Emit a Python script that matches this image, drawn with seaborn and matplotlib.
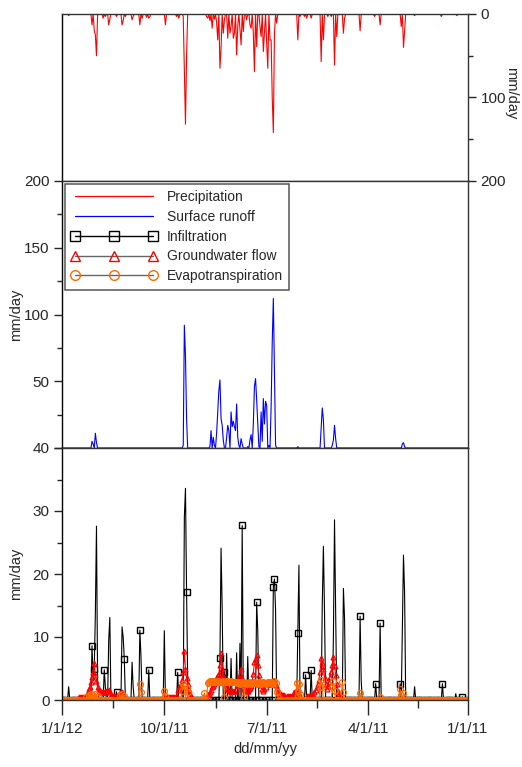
import numpy as np
import pandas as pd
import matplotlib
matplotlib.use("Agg")
import matplotlib.pyplot as plt
from matplotlib.lines import Line2D
from matplotlib.ticker import MultipleLocator, FixedLocator, FuncFormatter
import seaborn as sns

# ---------------- data (day index counted from the left edge, 0..365) ----------------
n_days = 366
tick_pos = [0, 92, 184, 275, 365]
tick_labels = ["1/1/12", "10/1/11", "7/1/11", "4/1/11", "1/1/11"]
minor_x = [46, 138, 229.5, 320]

precip_days = [6, 27, 29, 30, 31, 37, 39, 42, 43, 49, 54, 55, 57, 63, 64, 70, 72, 76, 78, 79,
               93, 103, 105, 109, 110, 111, 112, 130, 131, 133, 135, 137, 139, 140, 142, 143,
               145, 146, 149, 151, 152, 154, 155, 157, 158, 160, 161, 163, 166, 169, 170, 172,
               173, 175, 178, 179, 181, 182, 184, 185, 187, 188, 189, 190, 191, 193, 212, 214,
               218, 220, 224, 233, 235, 239, 242, 245, 247, 253, 254, 268, 281, 286, 305, 307,
               308, 317, 341, 355]
precip_vals = [2, 13, 20, 25, 50, 5, 3, 13, 6, 3, 13, 8, 3, 7, 3, 13, 5, 4, 5, 3,
               13, 3, 5, 3, 67, 132, 50, 3, 5, 8, 17, 6, 10, 31, 65, 41,
               23, 7, 29, 23, 15, 29, 23, 49, 15, 19, 37, 21, 7, 13, 17, 23,
               69, 39, 15, 27, 45, 23, 35, 65, 31, 31, 100, 142, 23, 11, 31, 3,
               3, 5, 5, 57, 31, 3, 3, 61, 27, 23, 5, 20, 3, 13, 15, 40,
               19, 2, 3, 2]

runoff_days = [27, 28, 30, 31, 109, 110, 111, 112, 133, 134, 136, 137, 139, 140, 141, 142, 143,
               144, 145, 148, 149, 150, 152, 153, 154, 155, 156, 157, 158, 159, 161, 162, 167,
               169, 170, 172, 173, 174, 175, 176, 177, 179, 180, 181, 182, 183, 184, 186, 188,
               189, 190, 191, 192, 212, 233, 234, 235, 243, 244, 245, 246, 306, 307, 308]
runoff_vals = [5, 3, 11, 4, 2, 92, 69, 22, 1, 13, 8, 2, 11, 27, 43, 51, 22,
               17, 6, 8, 17, 13, 27, 16, 20, 16, 13, 33, 8, 2, 7, 3, 1,
               6, 10, 18, 46, 52, 36, 18, 1, 27, 5, 37, 18, 35, 32, 2, 31,
               79, 112, 58, 2, 1, 15, 30, 21, 2, 6, 17, 7, 3, 4, 1]

infil_days = [6, 27, 28, 29, 30, 31, 32, 38, 39, 42, 43, 49, 54, 55, 56, 63, 64, 70, 71, 78,
              92, 104, 108, 110, 111, 112, 113, 128, 142, 143, 144, 146, 148, 152, 157, 160,
              162, 167, 175, 176, 190, 191, 192, 212, 213, 219, 224, 234, 235, 236, 244, 245,
              246, 253, 254, 268, 269, 282, 286, 304, 306, 307, 308, 317, 342, 354, 360]
infil_vals = [2.1, 8.6, 3, 5, 13.8, 27.6, 3, 4.8, 2, 9.5, 13.1, 1.3, 11.6, 10, 6.5, 6, 2, 11.1, 6.9, 4.8,
              11, 4.4, 2, 29, 33.6, 17.2, 3, 1, 6.7, 24.1, 14.5, 4.4, 7.4, 6.6, 7.5, 9,
              27.7, 6.9, 15.5, 11, 18, 19.2, 14.3, 10.6, 21.4, 4, 4.7, 15.3, 24.4, 14, 10, 28.6,
              14, 17.7, 13, 13.3, 3, 2.6, 12.2, 2.6, 11.6, 23, 17, 2.1, 2.6, 1, 0.5]
infil_square_days = [27, 29, 38, 49, 56, 70, 78, 104, 112, 142, 146, 162, 175, 190, 191,
                     212, 219, 224, 268, 282, 286, 304, 342, 360]

gw_days = list(range(15, 57)) + list(range(92, 117)) + list(range(131, 201)) + \
          list(range(202, 215)) + list(range(220, 252))
gw_vals = ([0.5] * 8 + [1.3, 1.7, 2.0, 2.9, 3.7, 4.5, 5.9, 4.0, 3.0, 2.0, 1.6, 1.4, 1.3, 1.3,
            1.2, 1.3, 1.2, 1.4, 1.5, 1.6, 1.3, 0.8, 0.7, 0.6, 0.6, 0.6, 0.7, 0.8, 0.9, 1.1,
            1.3, 1.2, 0.9, 0.5]
           + [0.5] * 12 + [1.6, 1.9, 2.2, 2.5, 3.2, 4.5, 7.7, 5.0, 3.5, 2.5, 1.6, 1.0, 0.6]
           + [0.8, 1.0, 1.3, 1.6, 2.0, 2.3, 2.6, 3.1, 3.7, 3.9, 4.2, 5.5, 7.4, 5.0, 3.8, 3.0,
              2.5, 2.1, 1.8, 1.6, 1.5, 1.5, 1.4, 1.5, 1.5, 1.8, 2.4, 2.9, 3.6, 4.2, 5.0, 3.5,
              2.0, 1.8, 1.6, 1.5, 1.5, 1.7, 1.9, 2.2, 3.0, 4.2, 6.1, 6.6, 7.1, 5.5, 4.0, 3.0,
              2.4, 1.8, 1.5, 1.7, 2.1, 2.5, 2.9, 2.7, 2.5, 2.5, 2.8, 3.0, 3.0, 2.4, 1.9, 1.5,
              1.2, 1.0, 0.9, 0.8, 0.8, 0.8]
           + [0.6] * 7 + [1.3, 1.5, 1.6, 1.2, 0.9, 0.7]
           + [0.7, 0.7, 0.7, 0.7, 0.7, 0.8, 0.8, 1.2, 1.6, 2.0, 2.6, 3.2, 4.5, 6.6, 5.8, 5.0,
              3.5, 2.5, 1.8, 2.2, 2.9, 3.7, 4.5, 5.6, 6.9, 5.4, 4.0, 2.5, 1.5, 1.0, 0.8, 0.5])

et_days = [22, 24, 26, 28, 30, 32, 52, 54, 56, 70, 71, 92, 93, 108, 109, 110, 112, 113, 128] + \
          list(range(131, 193)) + \
          [193, 194, 211, 212, 213, 214, 232, 233, 234, 243, 244, 245, 252, 253, 268, 286, 304, 305, 307]
et_vals = [0.5, 0.8, 1.0, 0.8, 1.0, 0.6, 0.8, 0.9, 0.6, 2.5, 1.2, 1.5, 0.6, 1.5, 2.6, 2.2, 1.9, 1.2, 1.1] + \
          [2.7, 2.9, 3.0, 2.9, 2.9, 3.0, 2.8, 2.9, 3.0, 3.0, 2.9, 2.8, 2.9, 2.9, 3.0, 0.4,
           2.9, 3.0, 2.9, 2.8, 2.9, 3.0, 2.9, 2.9, 2.8, 2.9, 2.7, 2.7, 2.8, 2.6, 2.7, 2.7,
           2.8, 0.4, 2.7, 2.6, 2.7, 2.8, 2.7, 2.6, 2.7, 2.7, 2.8, 2.7, 2.6, 2.7, 2.8, 2.7,
           2.6, 2.7, 2.8, 2.7, 2.6, 2.7, 2.8, 2.9, 2.8, 2.7, 2.6, 2.7, 3.0, 2.7] + \
          [1.3, 0.5, 2.7, 1.5, 2.5, 1.0, 2.0, 3.2, 2.0, 2.0, 3.0, 1.5, 2.8, 1.2, 1.1, 0.5, 1.7, 0.8, 1.1]


def daily(days, vals):
    s = np.zeros(n_days)
    s[np.array(days)] = np.array(vals, dtype=float)
    return s


x = np.arange(n_days)
precip = daily(precip_days, precip_vals)
runoff = daily(runoff_days, runoff_vals)
infil = daily(infil_days, infil_vals)
gw = daily(gw_days, gw_vals)
et = daily(et_days, et_vals)

df = pd.DataFrame({"day": x, "precip": precip, "runoff": runoff,
                   "infil": infil, "gw": gw, "et": et})

# ---------------- style ----------------
sns.set_theme(style="white")
plt.rcParams["font.family"] = ["Liberation Sans", "DejaVu Sans"]
plt.rcParams["axes.linewidth"] = 1.0

fig = plt.figure(figsize=(5.22, 7.67), dpi=100)
L, W = 62 / 522, 406 / 522
ax1 = fig.add_axes([L, 1 - 181 / 767, W, 167 / 767])
ax2 = fig.add_axes([L, 1 - 448 / 767, W, 267 / 767])
ax3 = fig.add_axes([L, 1 - 700 / 767, W, 252 / 767])

for ax in (ax1, ax2, ax3):
    ax.set_xlim(0, 365)
    ax.set_facecolor("white")
    for sp in ax.spines.values():
        sp.set_color("#333333")
        sp.set_linewidth(1.0)
    ax.spines["left"].set_color("black")

# ---- top: precipitation (inverted, right axis) ----
sns.lineplot(data=df, x="day", y="precip", ax=ax1, color="red", lw=0.8,
             estimator=None, sort=False)
ax1.set_ylim(200, 0)
ax1.yaxis.tick_right()
ax1.yaxis.set_label_position("right")
ax1.yaxis.set_major_locator(FixedLocator([0, 100, 200]))
ax1.yaxis.set_minor_locator(FixedLocator([50, 150]))
ax1.set_xticks([])
ax1.tick_params(axis="y", which="major", direction="out", length=6, width=1,
                labelsize=11, right=True, left=False, pad=3)
ax1.tick_params(axis="y", which="minor", direction="out", length=3.5, width=1,
                right=True, left=False)
ax1.set_ylabel("mm/day", rotation=270, fontsize=10.5, va="center", ha="center")
ax1.yaxis.set_label_coords(1.105, 0.527)
ax1.set_xlabel("")

# ---- middle: surface runoff ----
sns.lineplot(data=df, x="day", y="runoff", ax=ax2, color="blue", lw=0.8,
             estimator=None, sort=False)
ax2.set_ylim(0, 200)
ax2.yaxis.set_major_locator(MultipleLocator(50))
ax2.yaxis.set_minor_locator(MultipleLocator(25))
ax2.yaxis.set_major_formatter(FuncFormatter(lambda v, p: "" if v == 0 else f"{v:g}"))
ax2.set_xticks([])
ax2.tick_params(axis="y", which="major", direction="out", length=6, width=1,
                labelsize=11, left=True, pad=3)
ax2.tick_params(axis="y", which="minor", direction="out", length=3.5, width=1, left=True)
ax2.set_ylabel("mm/day", fontsize=10.5, labelpad=1)
ax2.set_xlabel("")

# ---- bottom: infiltration, groundwater, ET ----
sq_idx = sorted(set(infil_square_days) |
                {d for d in range(0, n_days, 3) if infil[d] < 0.5})
sns.lineplot(data=df, x="day", y="infil", ax=ax3, color="black", lw=0.8,
             estimator=None, sort=False, marker="s", markevery=sq_idx,
             ms=4.5, mfc="none", mec="black", mew=1.0)
sns.lineplot(data=df, x="day", y="gw", ax=ax3, color="red", lw=0.8,
             estimator=None, sort=False, marker="^", markevery=1,
             ms=3.5, mfc="none", mec="red", mew=0.9)
sns.lineplot(data=df, x="day", y="et", ax=ax3, color="#ff6a00", lw=0.8,
             estimator=None, sort=False, marker="o", markevery=1,
             ms=4.2, mfc="none", mec="#ff6a00", mew=0.9)
ax3.set_ylim(0, 40)
ax3.yaxis.set_major_locator(MultipleLocator(10))
ax3.yaxis.set_minor_locator(MultipleLocator(5))
ax3.xaxis.set_major_locator(FixedLocator(tick_pos))
ax3.xaxis.set_minor_locator(FixedLocator(minor_x))
ax3.set_xticklabels(tick_labels)
ax3.tick_params(axis="y", which="major", direction="out", length=6, width=1,
                labelsize=11, left=True, pad=3)
ax3.tick_params(axis="y", which="minor", direction="out", length=3.5, width=1, left=True)
ax3.tick_params(axis="x", which="major", direction="out", length=11, width=1,
                labelsize=11, bottom=True, pad=5)
ax3.tick_params(axis="x", which="minor", direction="out", length=6, width=1, bottom=True)
ax3.set_ylabel("mm/day", fontsize=10.5, labelpad=7)
ax3.set_xlabel("dd/mm/yy", fontsize=10.5, labelpad=4)

# ---- legend ----
handles = [
    Line2D([], [], color="red", lw=0.9),
    Line2D([], [], color="blue", lw=0.9),
    Line2D([], [], color="black", lw=1.0, marker="s", ms=7, mfc="none", mec="black", mew=1.0),
    Line2D([], [], color="#666666", lw=1.0, marker="^", ms=7, mfc="none", mec="red", mew=1.0),
    Line2D([], [], color="#666666", lw=1.0, marker="o", ms=7, mfc="none", mec="#ff6a00", mew=1.0),
]
labels = ["Precipitation", "Surface runoff", "Infiltration", "Groundwater flow", "Evapotranspiration"]
leg = ax2.legend(handles, labels, loc="upper left", bbox_to_anchor=(0.007, 0.99),
                 borderaxespad=0, numpoints=3, handlelength=6.2, handletextpad=0.7,
                 fontsize=10, labelspacing=0.42, frameon=True, fancybox=False,
                 framealpha=1, edgecolor="#555555", borderpad=0.45)
leg.get_frame().set_linewidth(1.1)

fig.savefig("out.png", dpi=100)
